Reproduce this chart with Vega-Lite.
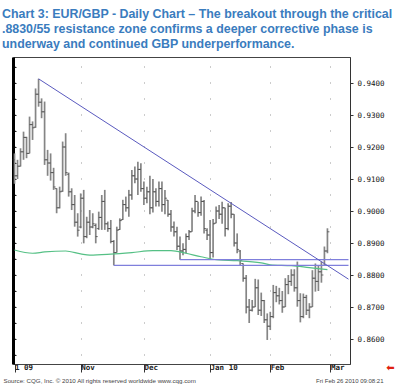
{
  "$schema": "https://vega.github.io/schema/vega-lite/v6.json",
  "width": 337,
  "height": 307,
  "autosize": {"type": "none"},
  "padding": {"left": 13, "top": 57, "right": 50, "bottom": 25},
  "background": "white",
  "title": {
    "text": [
      "Chart 3: EUR/GBP - Daily Chart – The breakout through the critical",
      ".8830/55 resistance zone confirms a deeper corrective phase is",
      "underway and continued GBP underperformance."
    ],
    "anchor": "start",
    "frame": "group",
    "dx": -11,
    "offset": 7,
    "font": "Liberation Sans",
    "fontSize": 12.4,
    "fontWeight": "bold",
    "color": "#3a7cbe",
    "lineHeight": 15
  },
  "datasets": {
    "bars": [
      {"d":"2009-10-01","o":0.9160,"h":0.9180,"l":0.9085,"c":0.9110},
      {"d":"2009-10-02","o":0.9110,"h":0.9160,"l":0.9100,"c":0.9140},
      {"d":"2009-10-05","o":0.9140,"h":0.9196,"l":0.9139,"c":0.9185},
      {"d":"2009-10-06","o":0.9185,"h":0.9248,"l":0.9160,"c":0.9230},
      {"d":"2009-10-07","o":0.9230,"h":0.9232,"l":0.9165,"c":0.9180},
      {"d":"2009-10-08","o":0.9180,"h":0.9295,"l":0.9180,"c":0.9270},
      {"d":"2009-10-09","o":0.9270,"h":0.9280,"l":0.9222,"c":0.9260},
      {"d":"2009-10-12","o":0.9262,"h":0.9383,"l":0.9260,"c":0.9365},
      {"d":"2009-10-13","o":0.9365,"h":0.9413,"l":0.9326,"c":0.9340},
      {"d":"2009-10-14","o":0.9340,"h":0.9352,"l":0.9290,"c":0.9310},
      {"d":"2009-10-15","o":0.9310,"h":0.9342,"l":0.9144,"c":0.9160},
      {"d":"2009-10-16","o":0.9160,"h":0.9191,"l":0.9110,"c":0.9150},
      {"d":"2009-10-19","o":0.9150,"h":0.9180,"l":0.9095,"c":0.9120},
      {"d":"2009-10-20","o":0.9120,"h":0.9135,"l":0.9066,"c":0.9075},
      {"d":"2009-10-21","o":0.9070,"h":0.9071,"l":0.8993,"c":0.9010},
      {"d":"2009-10-22","o":0.9010,"h":0.9076,"l":0.9008,"c":0.9060},
      {"d":"2009-10-23","o":0.9062,"h":0.9217,"l":0.9060,"c":0.9200},
      {"d":"2009-10-26","o":0.9200,"h":0.9243,"l":0.9110,"c":0.9120},
      {"d":"2009-10-27","o":0.9115,"h":0.9120,"l":0.9045,"c":0.9060},
      {"d":"2009-10-28","o":0.9060,"h":0.9071,"l":0.9003,"c":0.9020},
      {"d":"2009-10-29","o":0.9020,"h":0.9050,"l":0.8951,"c":0.8965},
      {"d":"2009-10-30","o":0.8965,"h":0.8993,"l":0.8920,"c":0.8940},
      {"d":"2009-11-02","o":0.8950,"h":0.9055,"l":0.8946,"c":0.9040},
      {"d":"2009-11-03","o":0.9040,"h":0.9066,"l":0.8899,"c":0.8920},
      {"d":"2009-11-04","o":0.8920,"h":0.8982,"l":0.8915,"c":0.8965},
      {"d":"2009-11-05","o":0.8965,"h":0.9003,"l":0.8925,"c":0.8950},
      {"d":"2009-11-06","o":0.8950,"h":0.8993,"l":0.8946,"c":0.8960},
      {"d":"2009-11-09","o":0.8955,"h":0.8961,"l":0.8899,"c":0.8920},
      {"d":"2009-11-10","o":0.8945,"h":0.8998,"l":0.8941,"c":0.8980},
      {"d":"2009-11-11","o":0.8980,"h":0.9050,"l":0.8941,"c":0.9030},
      {"d":"2009-11-12","o":0.9030,"h":0.9066,"l":0.8941,"c":0.8960},
      {"d":"2009-11-13","o":0.8960,"h":0.8967,"l":0.8935,"c":0.8945},
      {"d":"2009-11-16","o":0.8945,"h":0.8972,"l":0.8899,"c":0.8905},
      {"d":"2009-11-17","o":0.8905,"h":0.8909,"l":0.8830,"c":0.8870},
      {"d":"2009-11-18","o":0.8870,"h":0.8951,"l":0.8870,"c":0.8940},
      {"d":"2009-11-19","o":0.8942,"h":0.8977,"l":0.8941,"c":0.8970},
      {"d":"2009-11-20","o":0.8973,"h":0.9035,"l":0.8972,"c":0.9020},
      {"d":"2009-11-23","o":0.9020,"h":0.9045,"l":0.8998,"c":0.9010},
      {"d":"2009-11-24","o":0.9010,"h":0.9066,"l":0.8982,"c":0.9050},
      {"d":"2009-11-25","o":0.9050,"h":0.9128,"l":0.9035,"c":0.9110},
      {"d":"2009-11-26","o":0.9110,"h":0.9139,"l":0.9087,"c":0.9100},
      {"d":"2009-11-27","o":0.9100,"h":0.9154,"l":0.9050,"c":0.9130},
      {"d":"2009-11-30","o":0.9130,"h":0.9149,"l":0.9060,"c":0.9070},
      {"d":"2009-12-01","o":0.9070,"h":0.9092,"l":0.9019,"c":0.9040},
      {"d":"2009-12-02","o":0.9040,"h":0.9076,"l":0.9024,"c":0.9060},
      {"d":"2009-12-03","o":0.9060,"h":0.9110,"l":0.8990,"c":0.9010},
      {"d":"2009-12-04","o":0.9010,"h":0.9100,"l":0.8995,"c":0.9060},
      {"d":"2009-12-07","o":0.9060,"h":0.9071,"l":0.9014,"c":0.9030},
      {"d":"2009-12-08","o":0.9030,"h":0.9092,"l":0.9014,"c":0.9070},
      {"d":"2009-12-09","o":0.9070,"h":0.9092,"l":0.8998,"c":0.9020},
      {"d":"2009-12-10","o":0.9020,"h":0.9066,"l":0.8990,"c":0.9040},
      {"d":"2009-12-11","o":0.9034,"h":0.9034,"l":0.8982,"c":0.8990},
      {"d":"2009-12-14","o":0.8990,"h":0.9003,"l":0.8935,"c":0.8950},
      {"d":"2009-12-15","o":0.8950,"h":0.8967,"l":0.8920,"c":0.8935},
      {"d":"2009-12-16","o":0.8935,"h":0.8951,"l":0.8878,"c":0.8890},
      {"d":"2009-12-17","o":0.8890,"h":0.8920,"l":0.8848,"c":0.8875},
      {"d":"2009-12-18","o":0.8875,"h":0.8899,"l":0.8862,"c":0.8880},
      {"d":"2009-12-21","o":0.8880,"h":0.8930,"l":0.8868,"c":0.8920},
      {"d":"2009-12-22","o":0.8920,"h":0.8941,"l":0.8909,"c":0.8935},
      {"d":"2009-12-23","o":0.8935,"h":0.9010,"l":0.8935,"c":0.9000},
      {"d":"2009-12-24","o":0.9000,"h":0.9050,"l":0.8993,"c":0.9030},
      {"d":"2009-12-28","o":0.9030,"h":0.9029,"l":0.8982,"c":0.8995},
      {"d":"2009-12-29","o":0.8995,"h":0.9045,"l":0.8985,"c":0.9030},
      {"d":"2009-12-30","o":0.9030,"h":0.9034,"l":0.8930,"c":0.8945},
      {"d":"2009-12-31","o":0.8940,"h":0.8946,"l":0.8909,"c":0.8925},
      {"d":"2010-01-04","o":0.8925,"h":0.8972,"l":0.8847,"c":0.8870},
      {"d":"2010-01-05","o":0.8870,"h":0.8975,"l":0.8855,"c":0.8960},
      {"d":"2010-01-06","o":0.8962,"h":0.9014,"l":0.8962,"c":0.9000},
      {"d":"2010-01-07","o":0.9000,"h":0.9019,"l":0.8975,"c":0.8990},
      {"d":"2010-01-08","o":0.8990,"h":0.9029,"l":0.8960,"c":0.9010},
      {"d":"2010-01-11","o":0.9010,"h":0.9010,"l":0.8920,"c":0.8945},
      {"d":"2010-01-12","o":0.8945,"h":0.9024,"l":0.8940,"c":0.9015},
      {"d":"2010-01-13","o":0.9015,"h":0.9028,"l":0.8977,"c":0.8990},
      {"d":"2010-01-14","o":0.8990,"h":0.8990,"l":0.8889,"c":0.8900},
      {"d":"2010-01-15","o":0.8900,"h":0.8930,"l":0.8868,"c":0.8880},
      {"d":"2010-01-18","o":0.8875,"h":0.8878,"l":0.8830,"c":0.8845},
      {"d":"2010-01-19","o":0.8836,"h":0.8836,"l":0.8779,"c":0.8790},
      {"d":"2010-01-20","o":0.8790,"h":0.8800,"l":0.8680,"c":0.8700},
      {"d":"2010-01-21","o":0.8700,"h":0.8725,"l":0.8650,"c":0.8690},
      {"d":"2010-01-22","o":0.8690,"h":0.8722,"l":0.8686,"c":0.8700},
      {"d":"2010-01-25","o":0.8700,"h":0.8788,"l":0.8700,"c":0.8760},
      {"d":"2010-01-26","o":0.8760,"h":0.8786,"l":0.8675,"c":0.8690},
      {"d":"2010-01-27","o":0.8690,"h":0.8745,"l":0.8672,"c":0.8720},
      {"d":"2010-01-28","o":0.8720,"h":0.8722,"l":0.8650,"c":0.8660},
      {"d":"2010-01-29","o":0.8660,"h":0.8680,"l":0.8597,"c":0.8640},
      {"d":"2010-02-01","o":0.8640,"h":0.8685,"l":0.8628,"c":0.8670},
      {"d":"2010-02-02","o":0.8670,"h":0.8769,"l":0.8665,"c":0.8745},
      {"d":"2010-02-03","o":0.8745,"h":0.8766,"l":0.8715,"c":0.8735},
      {"d":"2010-02-04","o":0.8735,"h":0.8760,"l":0.8708,"c":0.8720},
      {"d":"2010-02-05","o":0.8720,"h":0.8750,"l":0.8682,"c":0.8700},
      {"d":"2010-02-08","o":0.8700,"h":0.8790,"l":0.8700,"c":0.8770},
      {"d":"2010-02-09","o":0.8770,"h":0.8800,"l":0.8740,"c":0.8780},
      {"d":"2010-02-10","o":0.8780,"h":0.8818,"l":0.8766,"c":0.8800},
      {"d":"2010-02-11","o":0.8800,"h":0.8818,"l":0.8748,"c":0.8760},
      {"d":"2010-02-12","o":0.8760,"h":0.8842,"l":0.8701,"c":0.8720},
      {"d":"2010-02-15","o":0.8720,"h":0.8743,"l":0.8652,"c":0.8670},
      {"d":"2010-02-16","o":0.8670,"h":0.8742,"l":0.8665,"c":0.8730},
      {"d":"2010-02-17","o":0.8730,"h":0.8738,"l":0.8675,"c":0.8690},
      {"d":"2010-02-18","o":0.8690,"h":0.8712,"l":0.8665,"c":0.8700},
      {"d":"2010-02-19","o":0.8700,"h":0.8815,"l":0.8700,"c":0.8790},
      {"d":"2010-02-22","o":0.8790,"h":0.8836,"l":0.8748,"c":0.8780},
      {"d":"2010-02-23","o":0.8780,"h":0.8831,"l":0.8750,"c":0.8810},
      {"d":"2010-02-24","o":0.8810,"h":0.8842,"l":0.8776,"c":0.8800},
      {"d":"2010-02-25","o":0.8830,"h":0.8889,"l":0.8830,"c":0.8875},
      {"d":"2010-02-26","o":0.8875,"h":0.8946,"l":0.8868,"c":0.8935}
    ],
    "ma": [
      {"d":"2009-10-01","v":0.8878},
      {"d":"2009-10-09","v":0.8868},
      {"d":"2009-10-15","v":0.8872},
      {"d":"2009-10-26","v":0.8875},
      {"d":"2009-11-02","v":0.8866},
      {"d":"2009-11-05","v":0.8862},
      {"d":"2009-11-16","v":0.8865},
      {"d":"2009-11-25","v":0.8870},
      {"d":"2009-12-04","v":0.8876},
      {"d":"2009-12-14","v":0.8876},
      {"d":"2009-12-21","v":0.8868},
      {"d":"2009-12-29","v":0.8857},
      {"d":"2010-01-07","v":0.8847},
      {"d":"2010-01-15","v":0.8845},
      {"d":"2010-01-27","v":0.8838},
      {"d":"2010-02-01","v":0.8832},
      {"d":"2010-02-10","v":0.8829},
      {"d":"2010-02-18","v":0.8823},
      {"d":"2010-02-26","v":0.8817}
    ],
    "trend": [
      {"d":"2009-10-13","v":0.9413},
      {"d":"2010-03-09","v":0.8787}
    ],
    "levels": [
      {"d":"2009-11-17","d1":"2010-03-09","v":0.8830},
      {"d":"2009-12-17","d1":"2010-03-09","v":0.8848}
    ]
  },
  "encoding": {
    "x": {
      "field": "d",
      "type": "ordinal",
      "scale": {
        "type": "point",
        "padding": 0.5,
        "domain": ["2009-10-01","2009-10-02","2009-10-05","2009-10-06","2009-10-07","2009-10-08","2009-10-09","2009-10-12","2009-10-13","2009-10-14","2009-10-15","2009-10-16","2009-10-19","2009-10-20","2009-10-21","2009-10-22","2009-10-23","2009-10-26","2009-10-27","2009-10-28","2009-10-29","2009-10-30",
          "2009-11-02","2009-11-03","2009-11-04","2009-11-05","2009-11-06","2009-11-09","2009-11-10","2009-11-11","2009-11-12","2009-11-13","2009-11-16","2009-11-17","2009-11-18","2009-11-19","2009-11-20","2009-11-23","2009-11-24","2009-11-25","2009-11-26","2009-11-27","2009-11-30",
          "2009-12-01","2009-12-02","2009-12-03","2009-12-04","2009-12-07","2009-12-08","2009-12-09","2009-12-10","2009-12-11","2009-12-14","2009-12-15","2009-12-16","2009-12-17","2009-12-18","2009-12-21","2009-12-22","2009-12-23","2009-12-24","2009-12-28","2009-12-29","2009-12-30","2009-12-31",
          "2010-01-04","2010-01-05","2010-01-06","2010-01-07","2010-01-08","2010-01-11","2010-01-12","2010-01-13","2010-01-14","2010-01-15","2010-01-18","2010-01-19","2010-01-20","2010-01-21","2010-01-22","2010-01-25","2010-01-26","2010-01-27","2010-01-28","2010-01-29",
          "2010-02-01","2010-02-02","2010-02-03","2010-02-04","2010-02-05","2010-02-08","2010-02-09","2010-02-10","2010-02-11","2010-02-12","2010-02-15","2010-02-16","2010-02-17","2010-02-18","2010-02-19","2010-02-22","2010-02-23","2010-02-24","2010-02-25","2010-02-26",
          "2010-03-01","2010-03-02","2010-03-03","2010-03-04","2010-03-05","2010-03-08","2010-03-09"]
      },
      "axis": {
        "orient": "bottom",
        "values": ["2009-10-01","2009-11-02","2009-12-01","2010-01-04","2010-02-01","2010-03-01"],
        "labelExpr": "datum.value == '2009-10-01' ? '1 09' : datum.value == '2009-11-02' ? 'Nov' : datum.value == '2009-12-01' ? 'Dec' : datum.value == '2010-01-04' ? 'Jan 10' : datum.value == '2010-02-01' ? 'Feb' : 'Mar'",
        "labelAngle": 0,
        "labelAlign": "left",
        "labelBaseline": "middle",
        "labelDx": 2,
        "labelPadding": -5,
        "labelFont": "DejaVu Sans Mono",
        "labelFontSize": 7.5,
        "labelFontWeight": "bold",
        "labelColor": "#222",
        "labelOverlap": false,
        "labelFlush": false,
        "tickSize": 8,
        "tickColor": "#333",
        "domain": false,
        "grid": true,
        "gridColor": "#999",
        "gridDash": [1, 15],
        "gridDashOffset": 7,
        "title": "Source: CQG, Inc. © 2010 All rights reserved worldwide www.cqg.com",
        "titleFont": "Liberation Sans",
        "titleFontSize": 6.2,
        "titleFontWeight": "normal",
        "titleColor": "#444",
        "titleAlign": "left",
        "titleBaseline": "middle",
        "titleX": -10,
        "titleY": 16
      }
    }
  },
  "layer": [
    {
      "data": {"name": "bars"},
      "mark": {"type": "rule", "color": "#858585", "strokeWidth": 1.7},
      "encoding": {
        "y": {
          "field": "h",
          "type": "quantitative",
          "scale": {"domain": [0.852188, 0.948125], "nice": false, "zero": false},
          "axis": {
            "orient": "right",
            "values": [0.86, 0.87, 0.88, 0.89, 0.90, 0.91, 0.92, 0.93, 0.94],
            "format": ".4f",
            "labelFont": "DejaVu Sans Mono",
            "labelFontSize": 7.5,
            "labelColor": "#111",
            "labelPadding": 4,
            "tickSize": 3,
            "tickColor": "#333",
            "domainColor": "#333",
            "grid": false,
            "title": "Fri Feb 26 2010 09:08:21",
            "titleFont": "Liberation Sans",
            "titleFontSize": 6,
            "titleFontWeight": "normal",
            "titleColor": "#444",
            "titleAngle": 0,
            "titleAlign": "right",
            "titleBaseline": "middle",
            "titleX": 33,
            "titleY": 323
          }
        },
        "y2": {"field": "l"}
      }
    },
    {
      "data": {"name": "bars"},
      "mark": {"type": "tick", "orient": "horizontal", "size": 2, "thickness": 1, "xOffset": -1, "color": "#333"},
      "encoding": {
        "y": {"field": "o", "type": "quantitative", "axis": null}
      }
    },
    {
      "data": {"name": "bars"},
      "mark": {"type": "tick", "orient": "horizontal", "size": 2, "thickness": 1, "xOffset": 1, "color": "#333"},
      "encoding": {
        "y": {
          "field": "c",
          "type": "quantitative",
          "axis": {
            "orient": "left",
            "labels": false,
            "values": [0.855, 0.86, 0.865, 0.87, 0.875, 0.88, 0.885, 0.89, 0.895, 0.90, 0.905, 0.91, 0.915, 0.92, 0.925, 0.93, 0.935, 0.94, 0.945],
            "tickSize": -3,
            "tickColor": "#222",
            "domainColor": "#000",
            "domainWidth": 3,
            "grid": false,
            "title": "⬅",
            "titleFont": "DejaVu Sans",
            "titleFontSize": 10,
            "titleColor": "#e02010",
            "titleAngle": 0,
            "titleAlign": "center",
            "titleBaseline": "middle",
            "titleX": 377,
            "titleY": 310
          }
        }
      }
    },
    {
      "data": {"name": "ma"},
      "mark": {"type": "line", "color": "#55c085", "strokeWidth": 1.2, "interpolate": "monotone"},
      "encoding": {
        "y": {"field": "v", "type": "quantitative", "axis": null}
      }
    },
    {
      "data": {"name": "levels"},
      "mark": {"type": "rule", "color": "#7f7fdc", "strokeWidth": 1.1},
      "encoding": {
        "x2": {"field": "d1"},
        "y": {"field": "v", "type": "quantitative", "axis": null}
      }
    },
    {
      "data": {"name": "trend"},
      "mark": {"type": "line", "color": "#5a5abf", "strokeWidth": 1},
      "encoding": {
        "y": {"field": "v", "type": "quantitative", "axis": null}
      }
    }
  ],
  "resolve": {"axis": {"y": "independent"}},
  "config": {
    "view": {"stroke": "#444", "strokeWidth": 1}
  }
}
